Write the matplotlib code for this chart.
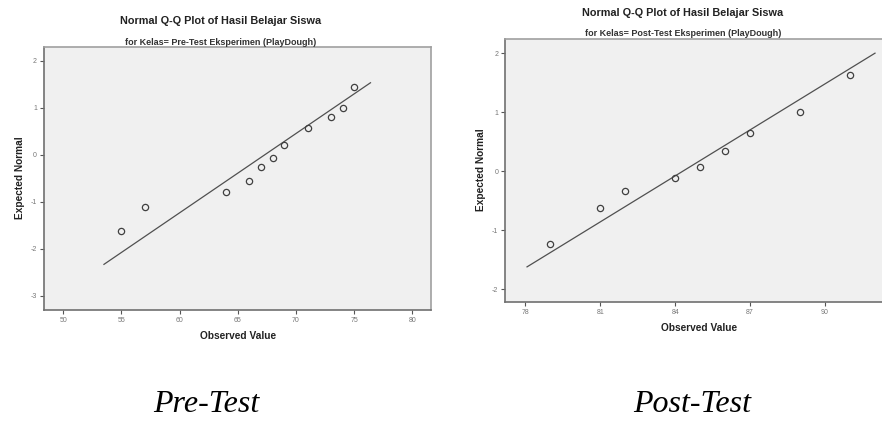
import matplotlib
matplotlib.use("Agg")
import matplotlib.pyplot as plt

# Pre-Test: observed values and expected normal quantiles
pre_obs = [55, 57, 64, 66, 67, 68, 69, 71, 73, 74, 75]
pre_exp = [-1.62, -1.12, -0.80, -0.56, -0.27, -0.06, 0.20, 0.56, 0.80, 1.00, 1.43]
pre_line_x = [53.5, 76.4]
pre_line_y = [-2.33, 1.53]

# Post-Test
post_obs = [79, 81, 82, 84, 85, 86, 87, 89, 91]
post_exp = [-1.24, -0.62, -0.33, -0.11, 0.08, 0.35, 0.65, 1.01, 1.63]
post_line_x = [78.07, 92.0]
post_line_y = [-1.62, 2.0]

pre_xticks = [50, 55, 60, 65, 70, 75, 80]
pre_yticks = [-3, -2, -1, 0, 1, 2]
post_xticks = [78, 81, 84, 87, 90]
post_yticks = [-2, -1, 0, 1, 2]

plt.rcParams["axes.unicode_minus"] = False

W, H = 882, 421
fig = plt.figure(figsize=(W / 100, H / 100), dpi=100)
fig.patch.set_facecolor("white")

SANS = "Liberation Sans"


def px(x, y):
    return x / W, 1 - y / H


def style_axes(ax):
    ax.set_facecolor("#f0f0f0")
    for s in ["top", "right"]:
        ax.spines[s].set_color("#a0a0a0")
        ax.spines[s].set_linewidth(1.2)
    for s in ["left", "bottom"]:
        ax.spines[s].set_color("#707070")
        ax.spines[s].set_linewidth(1.2)
    ax.tick_params(direction="out", length=3, width=0.8, color="#555555",
                   labelsize=5, labelcolor="#777777", pad=2)
    for lab in ax.get_xticklabels() + ax.get_yticklabels():
        lab.set_fontfamily(SANS)


def draw(ax, obs, exp, lx, ly):
    ax.plot(lx, ly, color="#505050", lw=0.9)
    ax.plot(obs, exp, "o", mfc="none", mec="#404040", ms=4.5, mew=0.9)


# left panel
ax1 = fig.add_axes([44 / W, 1 - 310 / H, (431 - 44) / W, (310 - 47) / H])
draw(ax1, pre_obs, pre_exp, pre_line_x, pre_line_y)
ax1.set_xlim(48.35, 81.6)
ax1.set_ylim(-3.30, 2.29)
ax1.set_xticks(pre_xticks)
ax1.set_yticks(pre_yticks)
style_axes(ax1)

# right panel (clipped at the image edge)
ax2 = fig.add_axes([505.3 / W, 1 - 301.7 / H, (885 - 505.3) / W, (301.7 - 39) / H])
draw(ax2, post_obs, post_exp, post_line_x, post_line_y)
ax2.set_xlim(77.2, 92.4)
ax2.set_ylim(-2.21, 2.24)
ax2.set_xticks(post_xticks)
ax2.set_yticks(post_yticks)
style_axes(ax2)

title = "Normal Q-Q Plot of Hasil Belajar Siswa"
fig.text(*px(221, 20.7), title, ha="center", va="center", fontsize=7.8,
         fontweight="bold", family=SANS, color="#222222")
fig.text(*px(221, 42.3), "for Kelas= Pre-Test Eksperimen (PlayDough)", ha="center",
         va="center", fontsize=6.5, fontweight="bold", family=SANS, color="#333333")
fig.text(*px(683, 13.3), title, ha="center", va="center", fontsize=7.8,
         fontweight="bold", family=SANS, color="#222222")
fig.text(*px(683, 33.3), "for Kelas= Post-Test Eksperimen (PlayDough)", ha="center",
         va="center", fontsize=6.5, fontweight="bold", family=SANS, color="#333333")

for (x, y) in [(20, 178), (481, 170)]:
    fig.text(*px(x, y), "Expected Normal", rotation=90, ha="center", va="center",
             fontsize=7.3, fontweight="bold", family=SANS, color="#222222")
for (x, y) in [(238, 336), (699, 327.7)]:
    fig.text(*px(x, y), "Observed Value", ha="center", va="center",
             fontsize=7.3, fontweight="bold", family=SANS, color="#222222")

fig.text(*px(206, 405), "Pre-Test", ha="center", va="center", fontsize=23,
         style="italic", family="Liberation Serif", color="black")
fig.text(*px(692, 405), "Post-Test", ha="center", va="center", fontsize=23,
         style="italic", family="Liberation Serif", color="black")

fig.savefig("out.png", dpi=100)
